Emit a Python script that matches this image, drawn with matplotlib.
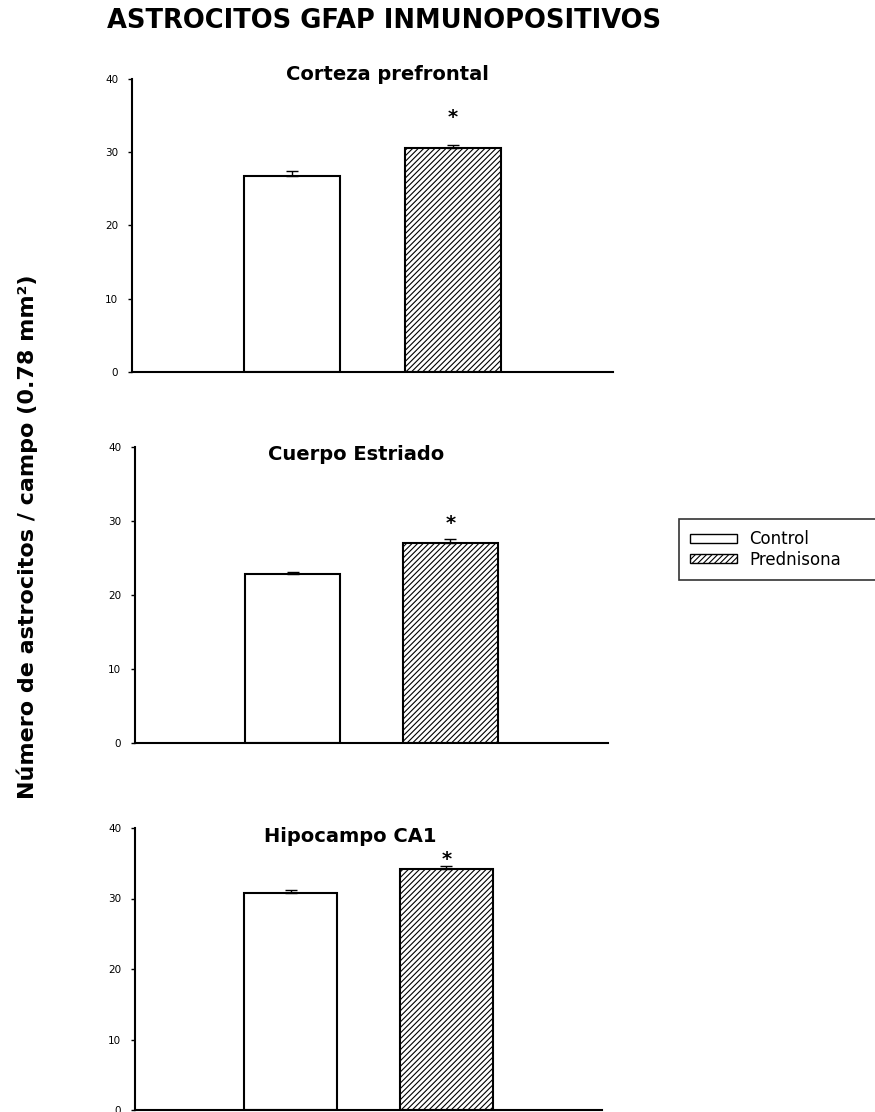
import matplotlib
matplotlib.use("Agg")
import matplotlib.pyplot as plt
from matplotlib.patches import Patch

# ---- data ----
regions = ["Corteza prefrontal", "Cuerpo Estriado", "Hipocampo CA1"]
groups = ["Control", "Prednisona"]
control_means = [26.7, 22.8, 30.8]
control_err = [0.8, 0.3, 0.4]
pred_means = [30.6, 27.0, 34.2]
pred_err = [0.4, 0.6, 0.4]
star_y = [34.8, 29.7, 35.5]
yticks = [0, 10, 20, 30, 40]
main_title = "ASTROCITOS GFAP INMUNOPOSITIVOS"
ylabel = "Número de astrocitos / campo (0.78 mm²)"

W, H = 875, 1112
plt.rcParams['font.family'] = ['DejaVu Sans']
plt.rcParams['hatch.linewidth'] = 0.8

fig = plt.figure(figsize=(W / 100, H / 100), dpi=100)


def pos(left, right, top, bottom):
    return [left / W, 1 - bottom / H, (right - left) / W, (bottom - top) / H]


panel_px = [(132, 613, 79, 372), (135, 608, 447, 743), (135, 602, 828, 1110)]
title_px = [(387, 75), (356, 454), (350, 837)]

for i, region in enumerate(regions):
    ax = fig.add_axes(pos(*panel_px[i]))
    ax.bar([1], [control_means[i]], width=0.6, color='white',
           edgecolor='black', linewidth=1.5, zorder=2)
    ax.bar([2], [pred_means[i]], width=0.6, color='white',
           edgecolor='black', linewidth=1.5, hatch='//////', zorder=2)
    ax.errorbar([1], [control_means[i]], yerr=[[0], [control_err[i]]],
                fmt='none', ecolor='black', elinewidth=1, capsize=4, capthick=1, zorder=3)
    ax.errorbar([2], [pred_means[i]], yerr=[[0], [pred_err[i]]],
                fmt='none', ecolor='black', elinewidth=1, capsize=4, capthick=1, zorder=3)
    ax.text(2, star_y[i], '*', ha='center', va='center', fontsize=14,
            fontweight='bold')
    ax.set_xlim(0, 3)
    ax.set_ylim(0, 40)
    ax.set_yticks(yticks)
    ax.set_xticks([])
    ax.tick_params(axis='y', direction='out', length=3, width=1, pad=7,
                   labelsize=7.5)
    for s in ['top', 'right']:
        ax.spines[s].set_visible(False)
    for s in ['left', 'bottom']:
        ax.spines[s].set_linewidth(1.5)
    ax.patch.set_alpha(0)
    tx, ty = title_px[i]
    fig.text(tx / W, 1 - ty / H, region, ha='center', va='center',
             fontsize=14, fontweight='bold')

fig.text(107 / W, 1 - 21 / H, main_title, ha='left', va='center',
         fontsize=18.5, fontweight='bold')

fig.text(27 / W, 1 - 537 / H, ylabel, ha='center', va='center',
         rotation=90, fontsize=16, fontweight='bold')

leg_handles = [Patch(facecolor='white', edgecolor='black', linewidth=1.0),
               Patch(facecolor='white', edgecolor='black', linewidth=1.0, hatch='//////')]
leg = fig.legend(leg_handles, groups, loc='upper left',
                 bbox_to_anchor=(679 / W, 1 - 583 / H, (885 - 679) / W, 64 / H),
                 mode='expand', fontsize=12,
                 frameon=True, fancybox=False, handlelength=2.8,
                 handleheight=0.45, handletextpad=0.72, borderpad=0.68,
                 labelspacing=0.15, borderaxespad=0)
leg.get_frame().set_edgecolor('black')
leg.get_frame().set_linewidth(1.2)

fig.savefig('out.png', dpi=100)
